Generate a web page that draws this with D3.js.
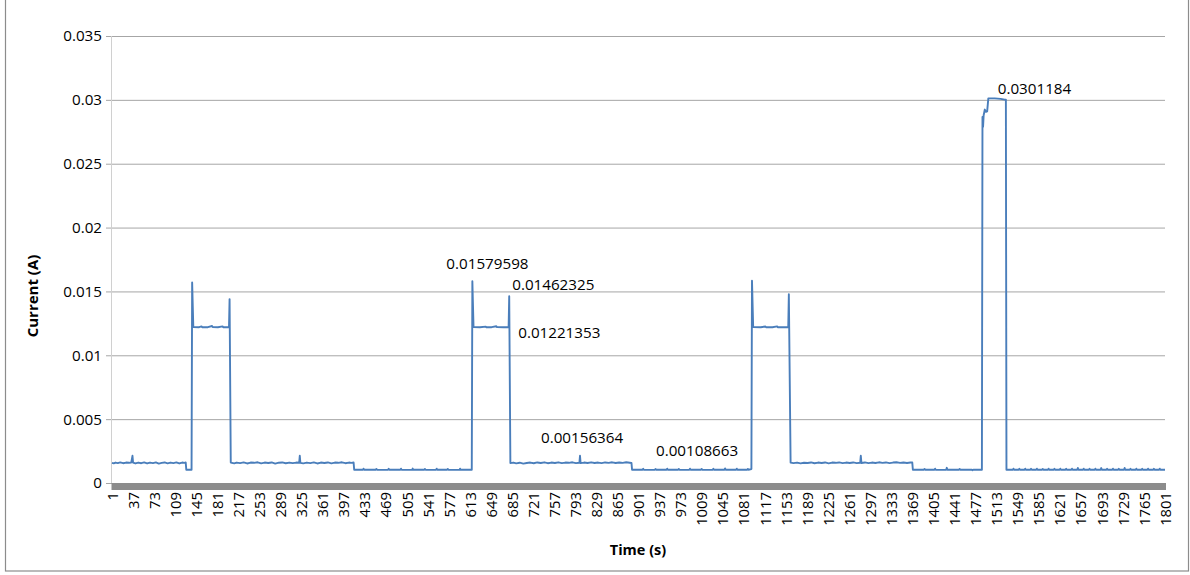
<!DOCTYPE html>
<html><head><meta charset="utf-8">
<script src="https://cdn.jsdelivr.net/npm/d3@7"></script>
<style>
body{margin:0;background:#fff}
svg{display:block}
text{font-family:"Open Sans",sans-serif;fill:#000}
</style>
</head><body>
<svg id="chart" width="1190" height="575"></svg>
<script>
// ---------- data ----------
const yTickValues = [0, 0.005, 0.01, 0.015, 0.02, 0.025, 0.03, 0.035];
const yTickLabels = ["0", "0.005", "0.01", "0.015", "0.02", "0.025", "0.03", "0.035"];
const timeTickLabels = [1,37,73,109,145,181,217,253,289,325,361,397,433,469,505,541,577,613,649,685,721,757,793,829,865,901,937,973,1009,1045,1081,1117,1153,1189,1225,1261,1297,1333,1369,1405,1441,1477,1513,1549,1585,1621,1657,1693,1729,1765,1801];

// [time (s), current (A)] breakpoints of the trace
const currentTrace = [
  // idle ~1.6 mA
  [1,0.00158],[4,0.00154],[7,0.00160],[11,0.00156],[15,0.00161],[20,0.00155],[25,0.00160],[30,0.00158],[34,0.00161],[36,0.00213],[37,0.00160],
  [41,0.00153],[46,0.00160],[51,0.00155],[56,0.00161],[61,0.00153],[66,0.00160],[71,0.00156],[76,0.00161],[81,0.00152],[86,0.00158],
  [91,0.00161],[96,0.00154],[101,0.00160],[106,0.00156],[111,0.00161],[116,0.00153],[121,0.00160],[125,0.00158],[127,0.00161],
  [128,0.00104],[137,0.00104],
  // burst 1
  [138,0.01570],[140,0.01222],[150,0.01220],[154,0.01226],[155,0.01220],[165,0.01220],[172,0.01229],[173,0.01221],[182,0.01220],[190,0.01226],[191,0.01220],[201,0.01220],
  [202,0.01440],[204,0.00160],
  // idle ~1.6 mA
  [210,0.00154],[214,0.00160],[220,0.00156],[226,0.00161],[232,0.00153],[238,0.00160],[244,0.00158],[250,0.00162],[256,0.00154],[262,0.00160],
  [268,0.00157],[274,0.00161],[280,0.00152],[286,0.00159],[292,0.00161],[298,0.00155],[304,0.00160],[310,0.00156],[316,0.00160],[321,0.00158],
  [322,0.00213],[323,0.00158],[328,0.00154],[334,0.00160],[340,0.00156],[346,0.00161],[352,0.00153],[358,0.00160],[364,0.00157],[370,0.00161],
  [376,0.00154],[382,0.00160],[388,0.00158],[394,0.00162],[400,0.00155],[406,0.00160],[410,0.00158],[414,0.00160],
  // idle ~1.1 mA
  [415,0.00104],[430,0.00104],[431,0.00112],[432,0.00104],[452,0.00104],[453,0.00110],[454,0.00104],[473,0.00103],[474,0.00111],[475,0.00104],
  [494,0.00104],[495,0.00112],[496,0.00104],[514,0.00103],[515,0.00113],[516,0.00104],[535,0.00104],[536,0.00110],[537,0.00103],
  [555,0.00104],[556,0.00112],[557,0.00104],[574,0.00104],[575,0.00110],[576,0.00104],[595,0.00103],[596,0.00112],[597,0.00104],[616,0.00104],
  // burst 2
  [617,0.01579598],[619,0.01222],[630,0.01220],[640,0.01224],[641,0.01220],[650,0.01220],[658,0.01227],[659,0.01221],[670,0.01220],[679,0.01221353],
  [680,0.01462325],[682,0.00156],
  // idle ~1.6 mA
  [687,0.00160],[692,0.00154],[698,0.00159],[704,0.00152],[710,0.00157],[716,0.00160],[722,0.00155],[728,0.00161],[734,0.00157],[740,0.00162],
  [746,0.00155],[752,0.00160],[758,0.00157],[764,0.00162],[770,0.00156],[776,0.00160],[782,0.00158],[788,0.00162],[794,0.00156],[800,0.00158],
  [801,0.00213],[802,0.00156],[808,0.00160],[814,0.00157],[820,0.00162],[826,0.00157],[832,0.00160],[838,0.00156],[844,0.00161],[850,0.00158],
  [856,0.00162],[862,0.00157],[868,0.00161],[874,0.00158],[880,0.00162],[886,0.00159],[889,0.00156364],
  // idle ~1.1 mA
  [890,0.00104],[908,0.00104],[909,0.00111],[910,0.00104],[929,0.00103],[930,0.00110],[931,0.00104],[949,0.00104],[950,0.00112],[951,0.00104],
  [969,0.00104],[970,0.00110],[971,0.00103],[988,0.00104],[989,0.00112],[990,0.00104],[1008,0.00104],[1009,0.00110],[1010,0.00104],
  [1028,0.00103],[1029,0.00111],[1030,0.00104],[1048,0.00104],[1049,0.00114],[1050,0.00104],[1068,0.00104],[1069,0.00112],[1070,0.00104],
  [1087,0.00104],[1088,0.00110],[1089,0.00104],[1094,0.00108663],
  // burst 3
  [1095,0.01584],[1097,0.01222],[1110,0.01220],[1118,0.01225],[1119,0.01220],[1130,0.01220],[1138,0.01226],[1139,0.01220],[1150,0.01220],[1157,0.01221],
  [1158,0.01478],[1161,0.00160],
  // idle ~1.6 mA
  [1166,0.00156],[1172,0.00160],[1178,0.00154],[1184,0.00159],[1190,0.00157],[1196,0.00161],[1202,0.00155],[1208,0.00160],[1214,0.00157],[1220,0.00161],
  [1226,0.00154],[1232,0.00160],[1238,0.00158],[1244,0.00161],[1250,0.00156],[1256,0.00160],[1262,0.00157],[1268,0.00161],[1274,0.00156],[1280,0.00158],
  [1281,0.00213],[1282,0.00157],[1288,0.00161],[1294,0.00156],[1300,0.00160],[1306,0.00157],[1312,0.00162],[1318,0.00158],[1324,0.00161],[1330,0.00156],
  [1336,0.00160],[1342,0.00162],[1348,0.00158],[1354,0.00161],[1360,0.00157],[1366,0.00161],[1369,0.00160],
  // idle ~1.1 mA
  [1370,0.00104],[1389,0.00104],[1390,0.00110],[1391,0.00104],[1407,0.00104],[1408,0.00112],[1409,0.00104],[1427,0.00103],[1428,0.00119],[1429,0.00104],
  [1449,0.00104],[1450,0.00110],[1451,0.00104],[1471,0.00104],[1472,0.00100],[1474,0.00104],[1488,0.00104],
  // burst 4
  [1489,0.02866],[1490,0.02790],[1491,0.02880],[1493,0.02924],[1495,0.02906],[1497,0.02910],[1499,0.0301184],[1510,0.03012],[1515,0.03010],
  [1520,0.03008],[1527,0.03002],[1529,0.03002],
  // idle ~1.1 mA
  [1530,0.00104],[1541,0.00104],[1542,0.00112],[1543,0.00104],[1551,0.00104],[1552,0.00111],[1553,0.00104],[1561,0.00104],[1562,0.00112],[1563,0.00104],
  [1571,0.00104],[1572,0.00111],[1573,0.00104],[1581,0.00104],[1582,0.00112],[1583,0.00104],[1591,0.00104],[1592,0.00110],[1593,0.00104],
  [1601,0.00104],[1602,0.00112],[1603,0.00104],[1611,0.00104],[1612,0.00111],[1613,0.00104],[1621,0.00104],[1622,0.00112],[1623,0.00104],
  [1631,0.00104],[1632,0.00111],[1633,0.00104],[1641,0.00104],[1642,0.00112],[1643,0.00104],[1651,0.00104],[1652,0.00118],[1653,0.00104],
  [1661,0.00104],[1662,0.00112],[1663,0.00104],[1671,0.00104],[1672,0.00111],[1673,0.00104],[1681,0.00104],[1682,0.00112],[1683,0.00104],
  [1691,0.00104],[1692,0.00117],[1693,0.00104],[1701,0.00104],[1702,0.00111],[1703,0.00104],[1711,0.00104],[1712,0.00112],[1713,0.00104],
  [1721,0.00104],[1722,0.00111],[1723,0.00104],[1731,0.00104],[1732,0.00118],[1733,0.00104],[1741,0.00104],[1742,0.00111],[1743,0.00104],
  [1751,0.00104],[1752,0.00112],[1753,0.00104],[1761,0.00104],[1762,0.00111],[1763,0.00104],[1771,0.00104],[1772,0.00112],[1773,0.00104],
  [1781,0.00104],[1782,0.00111],[1783,0.00104],[1791,0.00104],[1792,0.00112],[1793,0.00104],[1801,0.00104]
];

const annotationText  = ["0.01579598", "0.01462325", "0.01221353", "0.00156364", "0.00108663", "0.0301184"];
const annotationTime  = [617, 680, 680, 801, 960, 1510];
const annotationValue = [0.01579598, 0.01462325, 0.01221353, 0.00156364, 0.00108663, 0.0301184];

// ---------- layout / style ----------
const annotationOffset = [[-26,-18],[3,-12],[9,6],[-39,-25],[-17,-18],[3,-10]];
const plot = {left: 112, right: 1165, top: 36, bottom: 483};
const lineColor = "#4a7ebb";

const svg = d3.select("#chart");
const x = d3.scaleLinear().domain([1, 1801]).range([plot.left, plot.right]);
const y = d3.scaleLinear().domain([0, 0.035]).range([plot.bottom, plot.top]);

// chart frame
svg.append("rect").attr("x", 5.5).attr("y", -4).attr("width", 1183).attr("height", 575)
  .attr("fill", "none").attr("stroke", "#8c8c8c").attr("stroke-width", 1.2);

// gridlines + y ticks
const yAxis = d3.axisLeft(y).tickValues(yTickValues)
  .tickFormat((d, i) => yTickLabels[i])
  .tickSize(-(plot.right - plot.left + 6)).tickPadding(10);
const gy = svg.append("g").attr("transform", `translate(${plot.left - 6},0)`).call(yAxis);
gy.select(".domain").remove();
gy.selectAll(".tick line").attr("stroke", "#a6a6a6").attr("stroke-width", 1);
gy.selectAll(".tick text").attr("font-size", "15.2px").attr("x", -4).attr("fill", "#000")
  .style("font-family", "'Open Sans', sans-serif");

// y axis line
svg.append("line").attr("x1", plot.left - 0.5).attr("x2", plot.left - 0.5)
  .attr("y1", plot.top).attr("y2", plot.bottom).attr("stroke", "#d0d0d0").attr("stroke-width", 1);

// x axis (thick bar) + labels
svg.append("rect").attr("x", plot.left - 0.5).attr("y", plot.bottom)
  .attr("width", plot.right - plot.left + 1.5).attr("height", 7).attr("fill", "#8c8c8c");

const xAxis = d3.axisBottom(x).tickValues(timeTickLabels).tickSize(0).tickFormat(d => d);
const gx = svg.append("g").attr("transform", `translate(0,${plot.bottom + 9})`).call(xAxis);
gx.select(".domain").remove();
gx.selectAll(".tick text")
  .attr("transform", "rotate(-90)").attr("text-anchor", "end")
  .attr("x", 0).attr("y", 0).attr("dy", "0.35em")
  .attr("font-size", "14.8px").attr("fill", "#000")
  .style("font-family", "'Open Sans', sans-serif");

// trace
const line = d3.line().x(d => x(d[0])).y(d => y(d[1]));
svg.append("path").datum(currentTrace).attr("d", line)
  .attr("fill", "none").attr("stroke", lineColor).attr("stroke-width", 1.9)
  .attr("stroke-linejoin", "round");

// data labels
svg.append("g").selectAll("text").data(annotationText).join("text")
  .attr("x", (d, i) => x(annotationTime[i]) + annotationOffset[i][0])
  .attr("y", (d, i) => y(annotationValue[i]) + annotationOffset[i][1])
  .attr("dy", "0.35em").attr("font-size", "15.2px").text(d => d);

// axis titles
svg.append("text").attr("transform", "translate(33,296) rotate(-90)")
  .attr("text-anchor", "middle").attr("dy", "0.35em")
  .attr("font-size", "15px").attr("font-weight", "bold").text("Current (A)");
svg.append("text").attr("x", 638).attr("y", 550)
  .attr("text-anchor", "middle").attr("dy", "0.35em")
  .attr("font-size", "14.5px").attr("font-weight", "bold").text("Time (s)");
</script>
</body></html>
